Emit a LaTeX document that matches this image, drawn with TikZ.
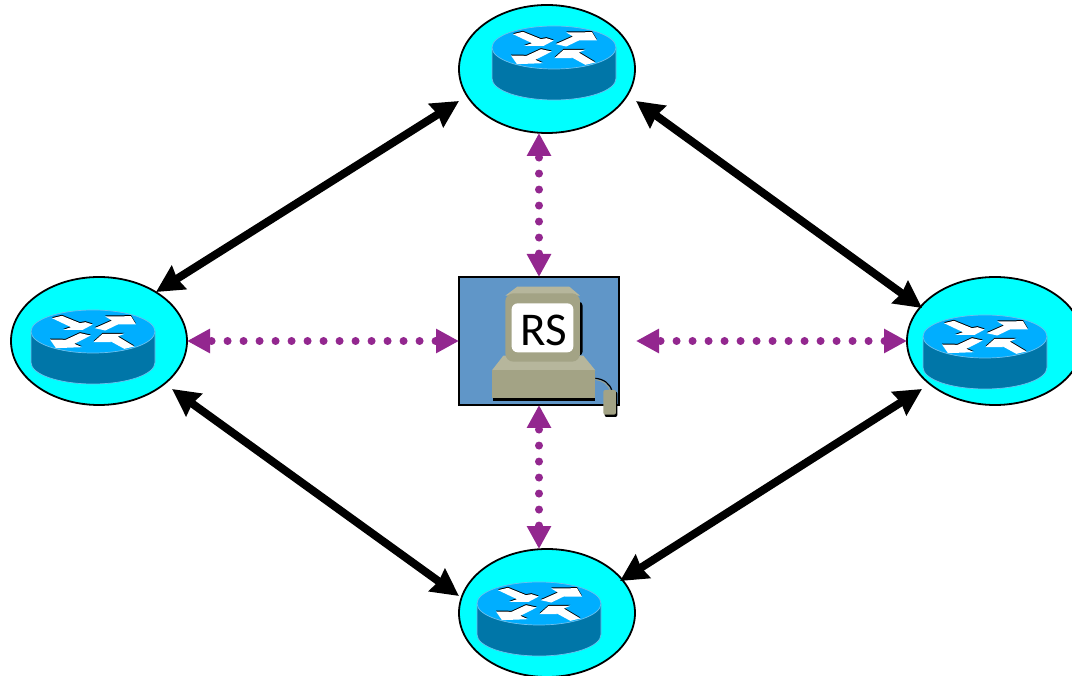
\documentclass[tikz,border=0pt]{standalone}
\usepackage{fontspec}
\setmainfont{Carlito}
\usetikzlibrary{shapes.geometric,arrows.meta}
\definecolor{hostcyan}{HTML}{00FFFF}
\definecolor{rtop}{HTML}{00AEFF}
\definecolor{rside}{HTML}{0076A8}
\definecolor{redge}{HTML}{6CC0EE}
\definecolor{boxblue}{HTML}{6096C8}
\definecolor{linkpurple}{HTML}{93278F}
\definecolor{pclight}{HTML}{B6B69C}
\definecolor{pcdark}{HTML}{A3A385}
\tikzset{
  x=1pt,y=-1pt,
  hostell/.style={ellipse,draw=black,line width=1.8pt,fill=hostcyan,minimum width=176pt,minimum height=128pt,inner sep=0pt,outer sep=0pt},
  rsbox/.style={rectangle,draw=black,line width=2pt,fill=boxblue,minimum width=160pt,minimum height=128pt,inner sep=0pt,outer sep=0pt},
  peerlink/.style={line width=8pt,black,{Stealth[length=27pt,width=27pt,inset=2pt]}-{Stealth[length=27pt,width=27pt,inset=2pt]}},
  rslink/.style={line width=8pt,linkpurple,line cap=round,dash pattern=on 0pt off 16pt,dash phase=13pt,{Triangle[length=23pt,width=23pt]}-{Triangle[length=23pt,width=23pt]}},
  router/.pic={
    \fill[rside] (-62,0) -- (-62,31) arc[start angle=180,end angle=360,x radius=62,y radius=-21.5] -- (62,0) -- cycle;
    \draw[redge,line width=0.7pt] (-62,0) -- (-62,31) arc[start angle=180,end angle=360,x radius=62,y radius=-21.5] -- (62,0);
    \draw[redge,line width=0.7pt,fill=rtop] (0,0) ellipse[x radius=62,y radius=21.5];
    \begin{scope}[scale=0.3333,shift={(-311,-143)}]
      \foreach \col/\dy in {black/-3,white/0}{
      \fill[\col,yshift=-\dy pt] (188,103) -- (218,96) -- (272,118) -- (288,115) -- (310,122) -- (280,138) -- (222,138) -- (245,130) -- cycle;
      \fill[\col,yshift=-\dy pt] (316,133) -- (368,110) -- (348,98) -- (425,97) -- (440,122) -- (388,122) -- (402,114) -- (348,140) -- cycle;
      \fill[\col,yshift=-\dy pt] (304,155) -- (255,180) -- (278,190) -- (200,193) -- (182,167) -- (232,168) -- (220,172) -- (272,148) -- cycle;
      \fill[\col,yshift=-\dy pt] (312,175) -- (340,150) -- (405,150) -- (385,158) -- (435,188) -- (405,195) -- (350,165) -- (365,175) -- cycle;
      }
    \end{scope}
  }
}
\begin{document}
\begin{tikzpicture}
\clip (0,0) rectangle (1072,676);
\fill[white] (0,0) rectangle (1072,676);
% hosts
\node[hostell] (top) at (547,69) {};
\node[hostell] (left) at (99,341) {};
\node[hostell] (right) at (995,341) {};
\node[hostell] (bot) at (547,613) {};
\pic at (554,47.5) {router};
\pic at (93,331.5) {router};
\pic at (985,336.5) {router};
\pic at (539,603.5) {router};
% route server
\node[rsbox] (rs) at (539,341) {};
\begin{scope}[shift={(440,265)},scale=0.3333]
  % shadows
  \fill[black,rounded corners=4pt] (240,110) rectangle (428,272);
  \fill[black] (160,330) rectangle (466,407);
  % cable
  \draw[black,line width=1.2pt] (466,340) .. controls (490,342) and (510,355) .. (516,378);
  \draw[pcdark,line width=0.7pt] (466,344) .. controls (488,346) and (505,358) .. (511,378);
  % mouse
  \fill[black,rounded corners=2pt] (494,380) rectangle (532,456);
  \fill[pcdark,rounded corners=2pt] (490,375) rectangle (528,449);
  % base
  \fill[pclight] (190,272) -- (430,272) -- (466,316) -- (156,316) -- cycle;
  \fill[pcdark] (156,314) rectangle (466,400);
  % monitor
  \fill[pclight] (232,65) -- (388,65) -- (420,92) -- (196,92) -- cycle;
  \fill[pcdark,rounded corners=8pt] (196,85) rectangle (420,290);
  \fill[white,rounded corners=6pt] (215,115) rectangle (400,262);
\end{scope}
\node[inner sep=0pt,font=\fontsize{47}{47}\selectfont,text=black] (rslabel) at (543.5,330.5) {RS};
% peer links
\draw[peerlink] ([shift={(-88pt,-32pt)}]top.center) -- ([shift={(57pt,49pt)}]left.center);
\draw[peerlink] ([shift={(89pt,-32pt)}]top.center) -- ([shift={(-73pt,33pt)}]right.center);
\draw[peerlink] ([shift={(73pt,-48pt)}]left.center) -- ([shift={(-88pt,17pt)}]bot.center);
\draw[peerlink] ([shift={(73pt,32pt)}]bot.center) -- ([shift={(-73pt,-48pt)}]right.center);
% route server links
\draw[rslink] ([xshift=-8pt]top.south) -- (rs.north);
\draw[rslink] (rs.south) -- ([xshift=-8pt]bot.north);
\draw[rslink] (left.east) -- (rs.west);
\draw[rslink] ([xshift=17pt]rs.east) -- (right.west);
\end{tikzpicture}
\end{document}
